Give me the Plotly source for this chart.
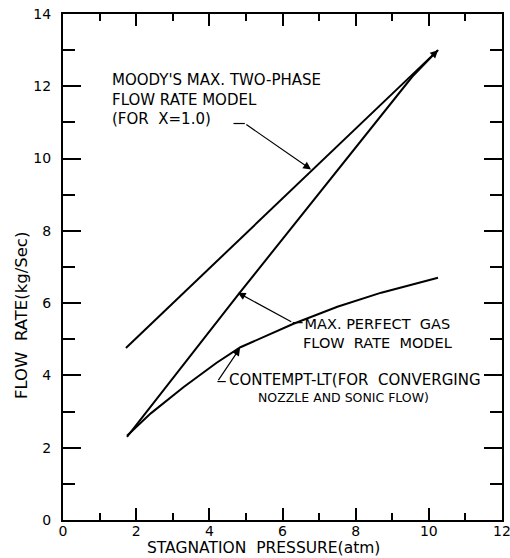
import plotly.graph_objects as go

# Data
moody_x = [1.72, 10.25]
moody_y = [4.76, 13.0]

gas_x = [1.75, 4.8, 9.55, 10.25]
gas_y = [2.30, 6.25, 12.27, 13.0]

contempt_x = [1.75, 2.4, 3.3, 4.2, 4.85, 5.5, 6.3, 7.5, 8.7, 10.25]
contempt_y = [2.33, 2.95, 3.68, 4.35, 4.78, 5.08, 5.43, 5.9, 6.29, 6.7]

x_ticks = [0, 2, 4, 6, 8, 10, 12]
y_ticks = [0, 2, 4, 6, 8, 10, 12, 14]

FONT = "DejaVu Sans"
W, H = 510, 558
L, T = 63, 14
pw, ph = 439, 506
R = W - L - pw
B = H - T - ph


def sx(px):  # screen px -> paper x
    return (px - L) / pw


def sy(py):  # screen px -> paper y
    return (T + ph - py) / ph


fig = go.Figure()
line = dict(color="black", width=2)
fig.add_trace(go.Scatter(x=moody_x, y=moody_y, mode="lines", line=line, showlegend=False))
fig.add_trace(go.Scatter(x=gas_x, y=gas_y, mode="lines", line=line, showlegend=False))
fig.add_trace(go.Scatter(x=contempt_x, y=contempt_y, mode="lines", line=line, showlegend=False))

axis_common = dict(
    showgrid=False, zeroline=False, showline=True, linecolor="black", linewidth=2,
    mirror="ticks", ticks="inside", tickcolor="black", tickwidth=1.5, automargin=False,
    ticklabeloverflow="allow",
    tickfont=dict(family=FONT, size=14, color="black"),
)
fig.update_xaxes(range=[0, 12], tickvals=x_ticks, ticklen=12, ticklabelstandoff=-3,
                 minor=dict(ticks="inside", dtick=1, ticklen=7, tickcolor="black", tickwidth=1.5),
                 **axis_common)
fig.update_yaxes(range=[0, 14], tickvals=y_ticks, ticklen=18, ticklabelstandoff=7,
                 minor=dict(ticks="inside", dtick=1, ticklen=12, tickcolor="black", tickwidth=1.5),
                 **axis_common)

ann_font = dict(family=FONT, size=15, color="black")
arrow = dict(xref="x", yref="y", axref="x", ayref="y", showarrow=True, arrowhead=2,
             arrowsize=1.3, arrowwidth=1.2, arrowcolor="black", text="")
anns = [
    dict(x=1.28, y=11.63, xref="x", yref="y", xanchor="left", yanchor="middle", align="left",
         text="MOODY'S MAX. TWO-PHASE<br>FLOW RATE MODEL<br>(FOR  X=1.0)", showarrow=False, font=ann_font),
    dict(x=6.78, y=9.7, ax=4.97, ay=10.97, **arrow),
    dict(x=10.25, y=13.0, ax=9.95, ay=12.7, **arrow),
    dict(x=8.6, y=5.15, xref="x", yref="y", xanchor="center", yanchor="middle", align="center",
         text="MAX. PERFECT  GAS<br>FLOW  RATE  MODEL", showarrow=False,
         font=dict(family=FONT, size=14.5, color="black")),
    dict(x=4.78, y=6.29, ax=6.28, ay=5.46, **arrow),
    dict(x=4.48, y=3.88, xref="x", yref="y", xanchor="left", yanchor="middle", align="left",
         text="CONTEMPT-LT(FOR  CONVERGING", showarrow=False, font=ann_font),
    dict(x=5.27, y=3.38, xref="x", yref="y", xanchor="left", yanchor="middle", align="left",
         text="NOZZLE AND SONIC FLOW)", showarrow=False, font=dict(family=FONT, size=12.5, color="black")),
    dict(x=4.84, y=4.76, ax=4.22, ay=3.83, **arrow),
    dict(x=sx(263), y=sy(548), xref="paper", yref="paper",
         xanchor="center", yanchor="middle", text="STAGNATION  PRESSURE(atm)", showarrow=False,
         font=dict(family=FONT, size=15.5, color="black")),
    dict(x=sx(21), y=sy(316), xref="paper", yref="paper",
         xanchor="center", yanchor="middle", text="FLOW  RATE(kg/Sec)", textangle=-90, showarrow=False,
         font=dict(family=FONT, size=16.5, color="black")),
]

shapes = [
    dict(type="line", xref="x", yref="y", x0=4.66, y0=10.97, x1=4.97, y1=10.97, line=dict(color="black", width=1.2)),
    dict(type="line", xref="x", yref="y", x0=6.28, y0=5.46, x1=6.55, y1=5.46, line=dict(color="black", width=1.2)),
    dict(type="line", xref="x", yref="y", x0=4.22, y0=3.83, x1=4.45, y1=3.83, line=dict(color="black", width=1.2)),
]

fig.update_layout(
    width=W, height=H, margin=dict(l=L, r=R, t=T, b=B),
    plot_bgcolor="white", paper_bgcolor="white", annotations=anns, shapes=shapes,
)

# remove the browser's default body margin so the figure fills the window exactly
fig.write_html("out.html", config={"displayModeBar": False},
               post_script="document.body.style.margin='0';document.body.style.overflow='hidden';")
